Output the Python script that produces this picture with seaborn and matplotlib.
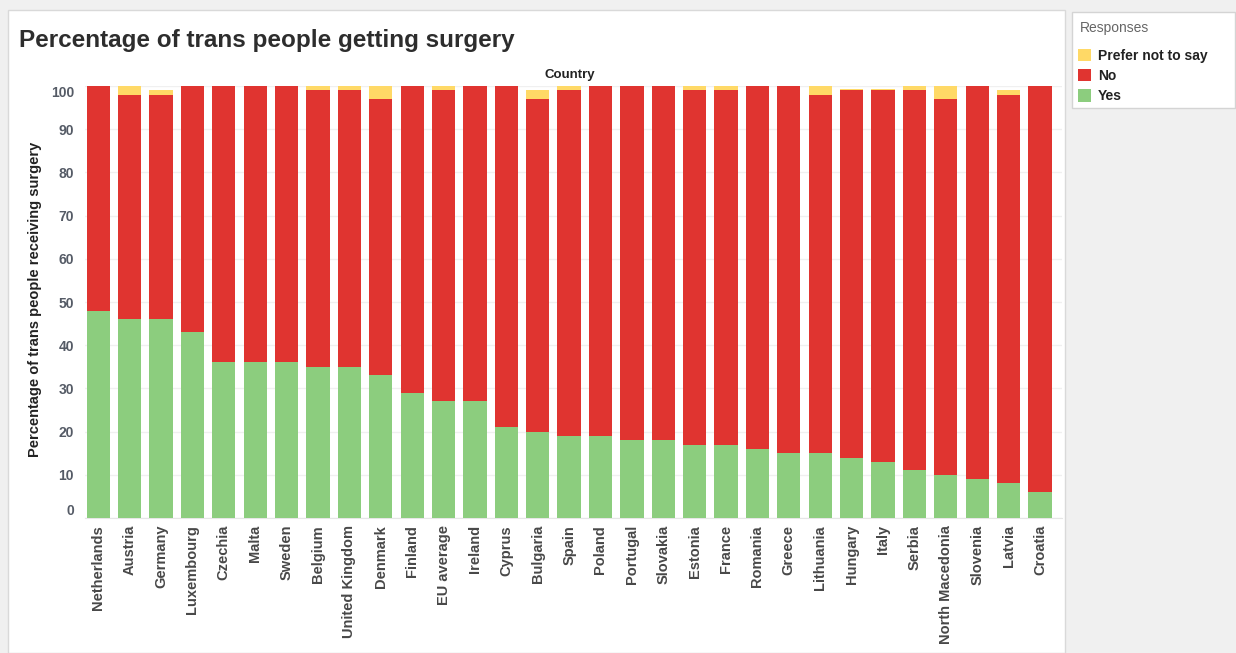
import numpy as np
import pandas as pd
import matplotlib
matplotlib.use('Agg')
import matplotlib.pyplot as plt
from matplotlib.patches import Patch, Rectangle
import seaborn as sns

# data
countries = ['Netherlands', 'Austria', 'Germany', 'Luxembourg', 'Czechia', 'Malta', 'Sweden',
             'Belgium', 'United Kingdom', 'Denmark', 'Finland', 'EU average', 'Ireland', 'Cyprus',
             'Bulgaria', 'Spain', 'Poland', 'Portugal', 'Slovakia', 'Estonia', 'France', 'Romania',
             'Greece', 'Lithuania', 'Hungary', 'Italy', 'Serbia', 'North Macedonia', 'Slovenia',
             'Latvia', 'Croatia']
yes = [48, 46, 46, 43, 36, 36, 36, 35, 35, 33, 29, 27, 27, 21, 20, 19, 19, 18, 18, 17, 17, 16,
       15, 15, 14, 13, 11, 10, 9, 8, 6]
no = [52, 52, 52, 57, 64, 64, 64, 64, 64, 64, 71, 72, 73, 79, 77, 80, 81, 82, 82, 82, 82, 84,
      85, 83, 85, 86, 88, 87, 91, 90, 94]
prefer = [0, 2, 1, 0, 0, 0, 0, 1, 1, 3, 0, 1, 0, 0, 2, 1, 0, 0, 0, 1, 1, 0,
          0, 2, 0.4, 0.4, 1, 3, 0, 1, 0]

df = pd.DataFrame({'Country': countries, 'Yes': yes, 'No': no, 'Prefer': prefer})
df['yes_no'] = df['Yes'] + df['No']
df['total'] = df['yes_no'] + df['Prefer']

c_yes = '#8ccd7e'
c_no = '#e03430'
c_pref = '#ffd966'

W, H = 1236, 653
fig = plt.figure(figsize=(W / 100, H / 100), dpi=100)
fig.patch.set_facecolor('#f0f0f0')
# white dashboard panels behind everything
fig.patches.append(Rectangle((8 / W, 0), (1065 - 8) / W, (H - 10) / H, transform=fig.transFigure,
                             facecolor='white', edgecolor='#d9d9d9', lw=1, zorder=-5))
fig.patches.append(Rectangle((1072 / W, 1 - 108 / H), (1235 - 1072) / W, (108 - 12) / H,
                             transform=fig.transFigure, facecolor='white', edgecolor='#d4d4d4',
                             lw=1, zorder=-5))

n = len(countries)
x0, x1 = -0.42, n - 1 + 0.70
ax = fig.add_axes([85 / W, 1 - 518 / H, (1062 - 85) / W, (518 - 86) / H])
ax.set_facecolor('white')

sns.barplot(x='Country', y='total', data=df, order=countries, color=c_pref, width=0.74,
            saturation=1, ax=ax, zorder=2)
sns.barplot(x='Country', y='yes_no', data=df, order=countries, color=c_no, width=0.74,
            saturation=1, ax=ax, zorder=3)
sns.barplot(x='Country', y='Yes', data=df, order=countries, color=c_yes, width=0.74,
            saturation=1, ax=ax, zorder=4)

ax.set_xlim(x0, x1)
ax.set_ylim(0, 100)
ax.set_yticks(range(0, 101, 10))
ax.yaxis.grid(True, color='#f0f0f0', lw=1)
ax.set_axisbelow(True)
for s in ['top', 'right', 'left']:
    ax.spines[s].set_visible(False)
ax.spines['bottom'].set_color('#e6e6e6')
ax.tick_params(axis='both', length=0)
ax.tick_params(axis='y', pad=8, colors='#555b66')
ax.tick_params(axis='x', pad=5)
ax.set_xlabel('')
ax.set_ylabel('')
ylabs = ax.get_yticklabels()
for lab in ylabs:
    lab.set_fontsize(10)
    lab.set_fontweight('bold')
    lab.set_family('Liberation Sans')
# tableau keeps the end labels inside the pane
ylabs[0].set_va('bottom')
ylabs[-1].set_va('top')
ax.set_xticks(range(n))
ax.set_xticklabels(countries, rotation=90, fontsize=10.5, fontweight='bold',
                   family='Liberation Sans', color='#484848')

fig.text(19 / W, 1 - 40 / H, 'Percentage of trans people getting surgery', fontsize=17.5,
         fontweight='bold', family='Liberation Sans', color='#2d2d2d', va='center', ha='left')
fig.text(570 / W, 1 - 75 / H, 'Country', fontsize=9.5, fontweight='bold',
         family='Liberation Sans', color='#222222', va='center', ha='center')
fig.text(35 / W, 1 - 299 / H, 'Percentage of trans people receiving surgery', fontsize=10.5,
         fontweight='bold', family='Liberation Sans', color='#222222', va='center',
         ha='center', rotation=90)

# legend
handles = [Patch(facecolor=c_pref, label='Prefer not to say'),
           Patch(facecolor=c_no, label='No'),
           Patch(facecolor=c_yes, label='Yes')]
fig.text(1080 / W, 1 - 28 / H, 'Responses', fontsize=10, family='Liberation Sans',
         color='#666666', va='center', ha='left')
leg = fig.legend(handles=handles, loc='upper left', bbox_to_anchor=(1072 / W, 1 - 43 / H),
                 frameon=False, handlelength=1.0, handleheight=1.0, handletextpad=0.45,
                 labelspacing=0.45, borderaxespad=0,
                 prop={'family': 'Liberation Sans', 'weight': 'bold', 'size': 10})
for t in leg.get_texts():
    t.set_color('#222222')

fig.savefig('out.png', dpi=100, facecolor=fig.get_facecolor())
